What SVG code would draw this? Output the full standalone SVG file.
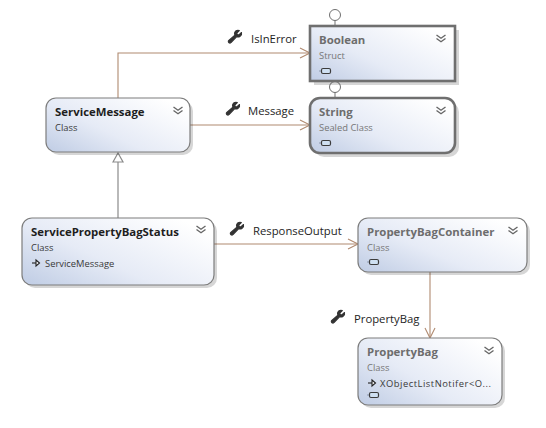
<svg xmlns="http://www.w3.org/2000/svg" width="546" height="428" viewBox="0 0 546 428">
<style>
text{font-family:"Open Sans","Noto Sans","Liberation Sans",sans-serif;fill:#1e1e1e}
.t{font-size:11.4px;font-weight:700}
.g{fill:#6d6d6d}
.s{font-size:9.4px;fill:#3a3a3a}
.sg{font-size:9.4px;fill:#777}
.l{font-size:11.3px}
.b{fill:url(#grad);stroke:#7d7d7d;stroke-width:1.2}
.h{fill:url(#grad);stroke:#6f6f6f;stroke-width:2.6}
.sh{fill:#000;opacity:.16}
.c{fill:none;stroke:#b08a70;stroke-width:1.1}
.i{fill:none;stroke:#8a8a8a;stroke-width:1.2}
.chev{fill:none;stroke:#666;stroke-width:1.4}
.lol{fill:#fff;stroke:#6f6f6f;stroke-width:1}
.wr{fill:#333;stroke:#333;stroke-width:1.1;stroke-linejoin:round}
</style>
<defs>
<linearGradient id="grad" x1="0" y1="1" x2="1" y2="0.25">
<stop offset="0" stop-color="#bfcce4"/>
<stop offset="0.45" stop-color="#e6ebf6"/>
<stop offset="1" stop-color="#ffffff"/>
</linearGradient>
<g id="chevs"><path class="chev" d="M-4.500-4 0-.8 4.500-4M-4.500-.5 0 2.700 4.500-.5"/></g>
<g id="wrench"><path class="wr" d="M7.500-5.500 4.800-3 3.200-3.500 2.800-5 5.300-7.500C3.500-7.900 1.500-7.300.8-5.700.3-4.500.5-3.600.9-2.900L-5.200 2.500C-6 3.200-5.800 4.200-5 4.800-4.300 5.300-3.500 5.100-3 4.500L2.500-1.200C3.600-.8 5-.9 6.200-1.800 7.400-2.800 7.900-4.200 7.500-5.500Z"/></g>
<g id="pill"><path d="M-7 0H-5" stroke="#8b98ad" stroke-width="1"/><rect x="-4.500" y="-2.500" width="9" height="5" rx="1.500" fill="#cfe0f2" stroke="#3c3c3c" stroke-width="1.200"/></g>
<g id="inh"><path d="M-4 0H0" stroke="#222" stroke-width="1.100"/><path d="M0-3 3.500 0 0 3Z" fill="#fff" stroke="#222" stroke-width="1.100"/></g>
</defs>
<g id="connectors">
<path class="c" d="M118 98V53H310"/>
<path class="c" d="M300 48 310 53 300 58"/>
<path class="c" d="M190 125H310"/>
<path class="c" d="M300 120 310 125 300 130"/>
<path class="c" d="M214 244H358"/>
<path class="c" d="M348 239 358 244 348 249"/>
<path class="c" d="M430 272V338"/>
<path class="c" d="M425 328 430 338 435 328"/>
<path class="i" d="M118 218V162"/>
<path d="M113 162 118 153 123 162Z" fill="#fff" stroke="#8a8a8a" stroke-width="1.200"/>
<path class="i" d="M335 20V26M335 92V98"/>
<circle class="lol" cx="335" cy="15" r="5.500"/>
<circle class="lol" cx="335" cy="87" r="5.500"/>
</g>
<g id="labels">
<use href="#wrench" x="234" y="38"/><text class="l" x="251" y="43">IsInError</text>
<use href="#wrench" x="232" y="110"/><text class="l" x="248" y="115">Message</text>
<use href="#wrench" x="236" y="230"/><text class="l" x="253" y="235">ResponseOutput</text>
<use href="#wrench" x="337" y="318"/><text class="l" x="354" y="323">PropertyBag</text>
</g>
<g id="node-boolean">
<rect class="sh" x="314" y="30" width="145" height="55"/>
<rect class="h" x="310" y="26" width="145" height="55"/>
<text class="t g" x="319" y="44">Boolean</text>
<text class="sg" x="319" y="59">Struct</text>
<use href="#pill" x="326" y="71"/>
<use href="#chevs" x="441" y="39"/>
</g>
<g id="node-string">
<rect class="sh" x="314" y="102" width="145" height="55" rx="10"/>
<rect class="h" x="310" y="98" width="145" height="55" rx="10"/>
<text class="t g" x="319" y="116">String</text>
<text class="sg" x="319" y="131">Sealed Class</text>
<use href="#pill" x="326" y="143"/>
<use href="#chevs" x="441" y="111"/>
</g>
<g id="node-servicemessage">
<rect class="sh" x="49" y="101" width="144" height="54" rx="10"/>
<rect class="b" x="46" y="98" width="144" height="54" rx="10"/>
<text class="t" x="55" y="116">ServiceMessage</text>
<text class="s" x="55" y="131">Class</text>
<use href="#chevs" x="178" y="111"/>
</g>
<g id="node-servicepropertybagstatus">
<rect class="sh" x="25" y="221" width="192" height="67" rx="10"/>
<rect class="b" x="22" y="218" width="192" height="67" rx="10"/>
<text class="t" x="31" y="236">ServicePropertyBagStatus</text>
<text class="s" x="31" y="251">Class</text>
<use href="#inh" x="36" y="263"/>
<text class="s" x="45" y="267">ServiceMessage</text>
<use href="#chevs" x="201" y="230"/>
</g>
<g id="node-propertybagcontainer">
<rect class="sh" x="361" y="221" width="169" height="54" rx="10"/>
<rect class="b" x="358" y="218" width="169" height="54" rx="10"/>
<text class="t g" x="367" y="236">PropertyBagContainer</text>
<text class="sg" x="367" y="251">Class</text>
<use href="#pill" x="374" y="262"/>
<use href="#chevs" x="513" y="231"/>
</g>
<g id="node-propertybag">
<rect class="sh" x="361" y="341" width="144" height="67" rx="10"/>
<rect class="b" x="358" y="338" width="144" height="67" rx="10"/>
<text class="t g" x="367" y="356">PropertyBag</text>
<text class="sg" x="367" y="371">Class</text>
<use href="#inh" x="372" y="383"/>
<text class="s" x="380" y="387" textLength="111">XObjectListNotifer&lt;O...</text>
<use href="#pill" x="374" y="395"/>
<use href="#chevs" x="489" y="351"/>
</g>
</svg>
